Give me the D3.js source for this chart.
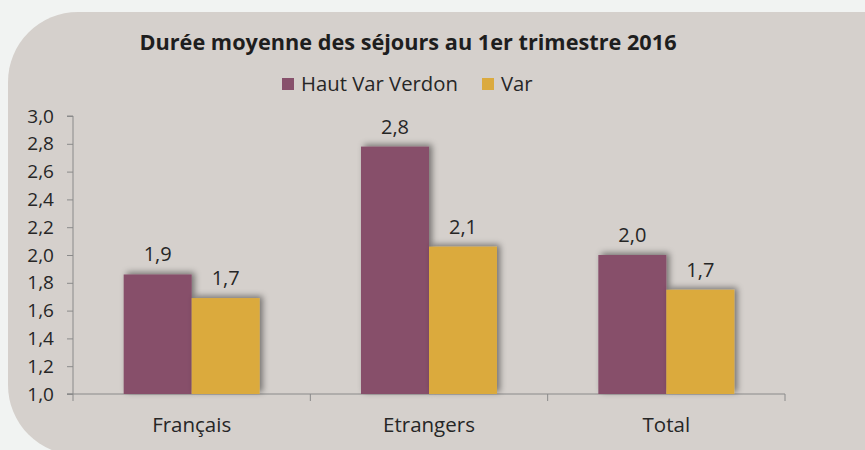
<!DOCTYPE html>
<html><head><meta charset="utf-8">
<script src="https://cdn.jsdelivr.net/npm/d3@7"></script>
<style>
html,body{margin:0;padding:0;background:#f1f3f2;}
svg{display:block;}
text{font-family:"Open Sans",sans-serif;}
</style></head>
<body>
<svg id="chart" width="865" height="450"></svg>
<script>
const title = "Durée moyenne des séjours au 1er trimestre 2016";
const categories = ["Français", "Etrangers", "Total"];
const seriesNames = ["Haut Var Verdon", "Var"];
const hautVarVerdon = [1.86, 2.78, 2.0];
const varValues = [1.69, 2.06, 1.75];
const valueLabels = [["1,9", "2,8", "2,0"], ["1,7", "2,1", "1,7"]];
const yTicks = [1.0, 1.2, 1.4, 1.6, 1.8, 2.0, 2.2, 2.4, 2.6, 2.8, 3.0];
const colors = ["#87506b", "#dbaa3e"];

(function () {
const svg = d3.select("#chart");

// panel
const px = 8, py = 12, pw = 900, ph = 443, r = 70;
svg.append("path")
  .attr("d", `M${px},${py + r} A${r},${r} 0 0 1 ${px + r},${py} L${px + pw},${py} L${px + pw},${py + ph} L${px + r},${py + ph} A${r},${r} 0 0 1 ${px},${py + ph - r} Z`)
  .attr("fill", "#d5d0cc");

const defs = svg.append("defs");
const f = defs.append("filter").attr("id", "shadow").attr("x", "-20%").attr("y", "-20%").attr("width", "140%").attr("height", "140%");
f.append("feDropShadow").attr("dx", 3).attr("dy", -2).attr("stdDeviation", 3)
  .attr("flood-color", "#000").attr("flood-opacity", 0.45);

const mLeft = 73, mRight = 785, mTop = 116, mBottom = 394;
const y = d3.scaleLinear().domain([1.0, 3.0]).range([mBottom, mTop]);
const x0 = d3.scaleBand().domain(categories).range([mLeft, mRight]).paddingInner(0.427).paddingOuter(0.2135);
const x1 = d3.scaleBand().domain(seriesNames).range([0, x0.bandwidth()]);

const data = [hautVarVerdon, varValues];
const txt = "#262626";

// title
svg.append("text").attr("x", 408).attr("y", 50).attr("text-anchor", "middle")
  .attr("font-weight", "bold").attr("font-size", 21.7).attr("fill", "#1e1e1e").text(title);

// legend
const legX = [282, 482];
seriesNames.forEach((s, i) => {
  svg.append("rect").attr("x", legX[i]).attr("y", 78).attr("width", 12).attr("height", 12).attr("fill", colors[i]);
  svg.append("text").attr("x", legX[i] + 19).attr("y", 91).attr("font-size", 20.3).attr("fill", txt).text(s);
});

// y axis
const yAxis = d3.axisLeft(y).tickValues(yTicks).tickSize(6).tickPadding(13)
  .tickFormat(d => d3.format(".1f")(d).replace(".", ","));
const gy = svg.append("g").attr("transform", `translate(${mLeft},0)`).call(yAxis);
gy.select(".domain").attr("stroke", "#8a8a8a").attr("d", `M-6,${mTop}H0V${mBottom}H-6`);
gy.selectAll(".tick line").attr("stroke", "#8a8a8a");
gy.selectAll(".tick text").attr("font-size", 19).attr("fill", txt).attr("font-family", "Open Sans");

// x axis
const gx = svg.append("g");
gx.append("line").attr("x1", mLeft - 6).attr("x2", mRight).attr("y1", mBottom).attr("y2", mBottom).attr("stroke", "#8a8a8a");
const bounds = [mLeft].concat(categories.map(c => x0(c) - x0.step() * x0.paddingOuter() + x0.step()));
bounds.forEach(b => {
  gx.append("line").attr("x1", b).attr("x2", b).attr("y1", mBottom).attr("y2", mBottom + 7).attr("stroke", "#8a8a8a");
});
categories.forEach(c => {
  gx.append("text").attr("x", x0(c) + x0.bandwidth() / 2).attr("y", 432).attr("text-anchor", "middle")
    .attr("font-size", 20.5).attr("fill", txt).text(c);
});

// bars
data.forEach((vals, si) => {
  const g = svg.append("g");
  categories.forEach((c, ci) => {
    g.append("rect")
      .attr("x", x0(c) + x1(seriesNames[si]))
      .attr("y", y(vals[ci]))
      .attr("width", x1.bandwidth())
      .attr("height", y(1.0) - y(vals[ci]))
      .attr("fill", colors[si])
      .attr("filter", "url(#shadow)");
  });
});
// labels
data.forEach((vals, si) => {
  categories.forEach((c, ci) => {
    svg.append("text")
      .attr("x", x0(c) + x1(seriesNames[si]) + x1.bandwidth() / 2)
      .attr("y", y(vals[ci]) - 13)
      .attr("text-anchor", "middle").attr("font-size", 20).attr("fill", txt)
      .text(valueLabels[si][ci]);
  });
});
})();
</script>
</body></html>
